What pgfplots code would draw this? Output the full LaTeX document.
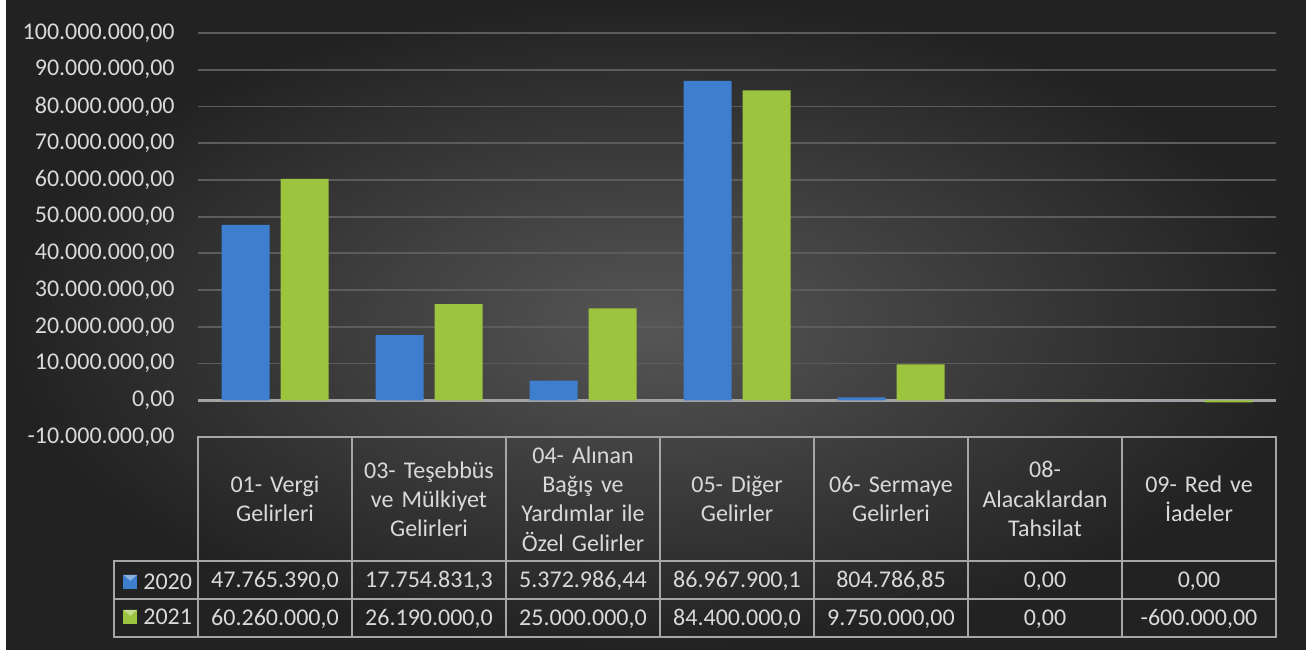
\documentclass[border=0pt]{standalone}
\usepackage{pgfplots}
\pgfplotsset{compat=1.18}
\usepackage{fontspec}
\setmainfont{Carlito}
\definecolor{txt}{HTML}{D9D9D9}
\definecolor{gridc}{HTML}{5C5C5C}
\definecolor{zeroc}{HTML}{A3A3A3}
\definecolor{tbl}{HTML}{A6A6A6}
\definecolor{bface}{HTML}{3D7ECF}
\definecolor{gface}{HTML}{9CC43F}
\definecolor{bgin}{HTML}{565656}
\definecolor{bgout}{HTML}{222222}
\newcommand{\tf}{\fontsize{12}{14.6}\selectfont}
\begin{document}
\begin{tikzpicture}
\begin{scope}[x=0.5pt,y=-0.5pt]
\fill[white] (0,0) rectangle (1306,653);
\shade[inner color=bgin, outer color=bgout] (6,0) rectangle (1306,649);
\end{scope}
\begin{axis}[
  at={(99pt,-218.5pt)}, anchor=south west,
  scale only axis, width=539pt, height=202pt,
  xmin=-0.5, xmax=6.5, ymin=-10000000, ymax=100000000,
  axis line style={draw=none},
  major tick length=0pt,
  xtick=\empty,
  scaled y ticks=false,
  ytick={-10000000,0,10000000,20000000,30000000,40000000,50000000,60000000,70000000,80000000,90000000,100000000},
  yticklabels={{-10.000.000,00},{0,00},{10.000.000,00},{20.000.000,00},{30.000.000,00},{40.000.000,00},{50.000.000,00},{60.000.000,00},{70.000.000,00},{80.000.000,00},{90.000.000,00},{100.000.000,00}},
  yticklabel style={text=txt, font=\tf, anchor=east, inner sep=0pt, xshift=-11.5pt},
  ymajorgrids, grid style={gridc, line width=0.9pt},
  ybar, bar width=24pt,
  clip=false,
  legend style={at={(axis description cs:-0.0696,-0.4016)}, anchor=west,
    draw=none, fill=none, inner sep=0pt, row sep=9.9pt, column sep=3pt,
    font=\tf, text=txt,
    nodes={inner sep=0pt, text height=7.6pt, text depth=0pt}},
  legend cell align=left,
]
\draw[zeroc, line width=1.3pt] (axis cs:-0.5,0) -- (axis cs:6.5,0);
\addplot[fill=bface, draw=none, bar shift=-14.75pt,
  legend image code/.code={\fill[bface] (0pt,-3.5pt) rectangle (7pt,3.5pt);
    \fill[bface!60!white] (0pt,3.5pt) -- (7pt,3.5pt) -- (3.5pt,0.5pt) -- cycle;}]
  coordinates {(0,47765390.0) (1,17754831.3) (2,5372986.44) (3,86967900.1) (4,804786.85) (5,0) (6,0)};
\addlegendentry{2020}
\addplot[fill=gface, draw=none, bar shift=14.75pt,
  legend image code/.code={\fill[gface] (0pt,-3.5pt) rectangle (7pt,3.5pt);
    \fill[gface!60!white] (0pt,3.5pt) -- (7pt,3.5pt) -- (3.5pt,0.5pt) -- cycle;}]
  coordinates {(0,60260000) (1,26190000) (2,25000000) (3,84400000) (4,9750000) (5,0) (6,-600000)};
\addlegendentry{2021}
\end{axis}
\begin{scope}[x=0.5pt,y=-0.5pt]
\draw[tbl, line width=0.75pt] (198,437) rectangle (1276,637);
\foreach \xx in {352,506,660,814,968,1122} \draw[tbl, line width=0.75pt] (\xx,437) -- (\xx,637);
\draw[tbl, line width=0.75pt] (114,561) -- (1276,561);
\draw[tbl, line width=0.75pt] (114,599) -- (1276,599);
\draw[tbl, line width=0.75pt] (114,561) rectangle (198,637);
\tikzset{hd/.style={text=txt, font=\tf, align=center, text width=75pt, inner sep=0pt},
         vl/.style={text=txt, font=\tf, inner sep=0pt, text height=7.6pt, text depth=0pt}}
\node[hd] at (275,499) {01- Vergi\\Gelirleri};
\node[hd] at (429,499) {03- Teşebbüs\\ve Mülkiyet\\Gelirleri};
\node[hd] at (583,499) {04- Alınan\\Bağış ve\\Yardımlar ile\\Özel Gelirler};
\node[hd] at (737,499) {05- Diğer\\Gelirler};
\node[hd] at (891,499) {06- Sermaye\\Gelirleri};
\node[hd] at (1045,499) {08-\\Alacaklardan\\Tahsilat};
\node[hd] at (1199,499) {09- Red ve\\İadeler};
\node[vl] at (275,580) {47.765.390,0};
\node[vl] at (429,580) {17.754.831,3};
\node[vl] at (583,580) {5.372.986,44};
\node[vl] at (737,580) {86.967.900,1};
\node[vl] at (891,580) {804.786,85};
\node[vl] at (1045,580) {0,00};
\node[vl] at (1199,580) {0,00};
\node[vl] at (275,618) {60.260.000,0};
\node[vl] at (429,618) {26.190.000,0};
\node[vl] at (583,618) {25.000.000,0};
\node[vl] at (737,618) {84.400.000,0};
\node[vl] at (891,618) {9.750.000,00};
\node[vl] at (1045,618) {0,00};
\node[vl] at (1199,618) {-600.000,00};
\pgfresetboundingbox
\useasboundingbox (0,0) rectangle (1306,653);
\end{scope}
\end{tikzpicture}
\end{document}
